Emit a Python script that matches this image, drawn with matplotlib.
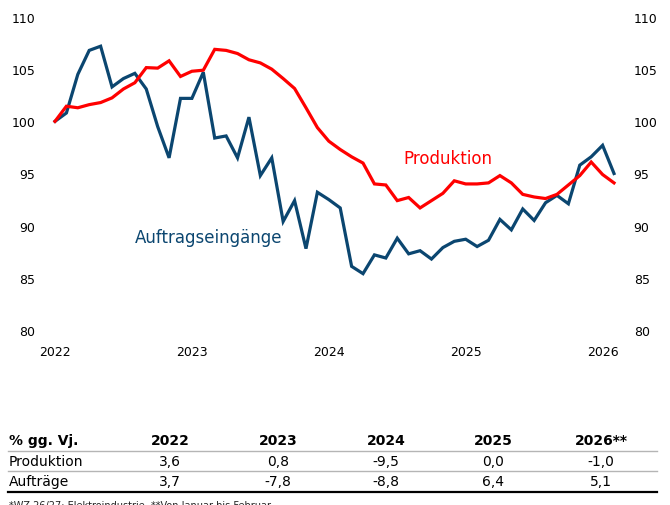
import matplotlib
matplotlib.use("Agg")
import matplotlib.pyplot as plt
import numpy as np

# Daten: Index 2021 = 100, monatlich Jan 2022 bis Feb 2026
jahre = ["2022", "2023", "2024", "2025", "2026"]

auftraege = [100.0, 100.8, 104.5, 106.8, 107.2, 103.3, 104.1, 104.6, 103.1, 99.5, 96.5, 102.2,
             102.2, 104.7, 98.4, 98.6, 96.5, 100.4, 94.8, 96.5, 90.4, 92.4, 87.8, 93.2,
             92.5, 91.7, 86.1, 85.4, 87.2, 86.9, 88.8, 87.3, 87.6, 86.8, 87.9, 88.5,
             88.7, 88.0, 88.6, 90.6, 89.6, 91.6, 90.5, 92.2, 92.9, 92.1, 95.8, 96.6,
             97.7, 95.0]

produktion = [100.0, 101.45, 101.3, 101.6, 101.8, 102.25, 103.1, 103.7, 105.15, 105.1, 105.8, 104.3,
              104.8, 104.9, 106.9, 106.8, 106.5, 105.9, 105.6, 105.0, 104.1, 103.15, 101.3, 99.4,
              98.1, 97.3, 96.6, 96.0, 94.0, 93.9, 92.4, 92.7, 91.7, 92.4, 93.1, 94.3,
              94.0, 94.0, 94.1, 94.8, 94.1, 93.0, 92.75, 92.6, 93.0, 93.9, 94.8, 96.1,
              94.9, 94.1]

# Tabelle
tab_kopf = ["2022", "2023", "2024", "2025", "2026**"]
tab_produktion = ["3,6", "0,8", "-9,5", "0,0", "-1,0"]
tab_auftraege = ["3,7", "-7,8", "-8,8", "6,4", "5,1"]

blau = "#0b4670"
rot = "#ff0000"

W, H = 670, 506


def fx(x):
    return x / W


def fy(y):
    return 1 - y / H


fig = plt.figure(figsize=(W / 100, H / 100), dpi=100)
ax = fig.add_axes([fx(45), fy(331), fx(624) - fx(45), fy(18) - fy(331)])

monate = np.arange(len(auftraege))
ax.plot(monate, auftraege, color=blau, lw=2.3, solid_joinstyle="miter")
ax.plot(monate, produktion, color=rot, lw=2.3, solid_joinstyle="miter")

ax.set_xlim(-10 / 11.42, 49 + 10 / 11.42)
ax.set_ylim(80, 110)
ax.set_xticks(np.arange(0, 49, 12))
ax.set_xticklabels(jahre)
ax.set_yticks(np.arange(80, 111, 5))
ax.tick_params(axis="both", length=0, labelsize=9)
ax.tick_params(axis="x", pad=11)
ax.tick_params(axis="y", pad=7, labelright=True, right=False)
for s in ax.spines.values():
    s.set_visible(False)

ax.text(34.4, 96.5, "Produktion", color=rot, fontsize=12, ha="center", va="center")
ax.text(13.5, 88.9, "Auftragseingänge", color=blau, fontsize=12, ha="center", va="center")

# Tabelle unter dem Diagramm
spalten = [170, 278, 386, 493, 601]
fig.text(fx(9), fy(441), "% gg. Vj.", fontsize=10, fontweight="bold", va="center")
for x, t in zip(spalten, tab_kopf):
    fig.text(fx(x), fy(441), t, fontsize=10, fontweight="bold", ha="center", va="center")
fig.text(fx(9), fy(462), "Produktion", fontsize=10, va="center")
fig.text(fx(9), fy(482), "Aufträge", fontsize=10, va="center")
for x, a, b in zip(spalten, tab_produktion, tab_auftraege):
    fig.text(fx(x), fy(462), a, fontsize=10, ha="center", va="center")
    fig.text(fx(x), fy(482), b, fontsize=10, ha="center", va="center")

fig.add_artist(plt.Line2D([fx(8), fx(657)], [fy(452), fy(452)], color="#b5b5b5", lw=1))
fig.add_artist(plt.Line2D([fx(8), fx(657)], [fy(472), fy(472)], color="#b5b5b5", lw=1))
fig.add_artist(plt.Line2D([fx(8), fx(657)], [fy(493), fy(493)], color="black", lw=1.6))

fig.text(fx(9), fy(501), "*WZ 26/27: Elektroindustrie, **Von Januar bis Februar",
         fontsize=7, va="top", color="#222222")

fig.savefig("out.png", dpi=100)
